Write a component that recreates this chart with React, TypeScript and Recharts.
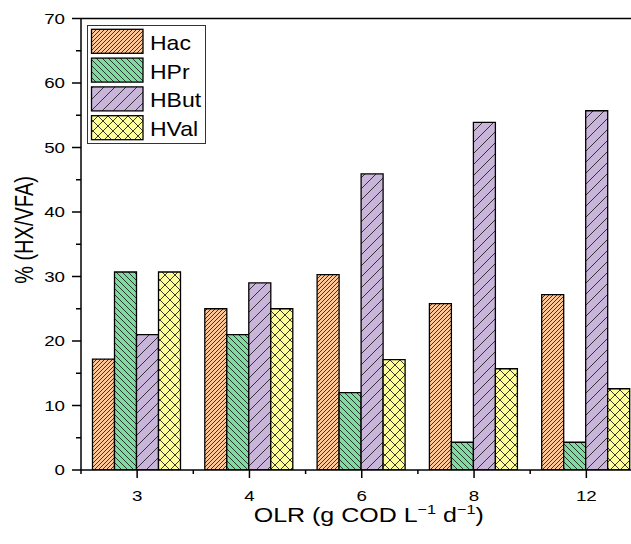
import React from 'react';
import { BarChart, Bar, XAxis, YAxis, Legend, ReferenceLine } from 'recharts';

const categories = ['3', '4', '6', '8', '12'];
const hac = [17.2, 25.0, 30.3, 25.8, 27.2];
const hpr = [30.7, 21.0, 12.0, 4.3, 4.3];
const hbut = [21.0, 29.0, 45.9, 53.9, 55.7];
const hval = [30.7, 25.0, 17.1, 15.7, 12.6];
const yTicks = [0, 5, 10, 15, 20, 25, 30, 35, 40, 45, 50, 55, 60, 65, 70];
const seriesNames = ['Hac', 'HPr', 'HBut', 'HVal'];

const data = categories.map((c, i) => ({
  olr: c,
  Hac: hac[i],
  HPr: hpr[i],
  HBut: hbut[i],
  HVal: hval[i],
}));

const FONT = '"Liberation Sans", Arial, Helvetica, sans-serif';
const SX = 1.25;
const patternIds: Record<string, string> = { Hac: 'pHac', HPr: 'pHPr', HBut: 'pHBut', HVal: 'pHVal' };

const Patterns = () => (
  <svg width={0} height={0} style={{ position: 'absolute' }}>
    <defs>
      <pattern id="pHac" patternUnits="userSpaceOnUse" width={4} height={4}>
        <rect width={4} height={4} fill="#FFC697" />
        <path d="M-1,1 l2,-2 M0,4 l4,-4 M3,5 l2,-2" stroke="#222" strokeWidth={0.9} />
      </pattern>
      <pattern id="pHPr" patternUnits="userSpaceOnUse" width={6} height={6}>
        <rect width={6} height={6} fill="#7FDBA0" />
        <path d="M-1,5 l2,2 M0,0 l6,6 M5,-1 l2,2" stroke="#222" strokeWidth={0.9} />
      </pattern>
      <pattern id="pHBut" patternUnits="userSpaceOnUse" width={11} height={11}>
        <rect width={11} height={11} fill="#C9B5D9" />
        <path d="M-1,1 l2,-2 M0,11 l11,-11 M10,12 l2,-2" stroke="#222" strokeWidth={0.9} />
      </pattern>
      <pattern id="pHVal" patternUnits="userSpaceOnUse" width={10} height={10}>
        <rect width={10} height={10} fill="#FFFF99" />
        <path d="M-1,1 l2,-2 M0,10 l10,-10 M9,11 l2,-2 M-1,9 l2,2 M0,0 l10,10 M9,-1 l2,2" stroke="#222" strokeWidth={0.9} />
      </pattern>
    </defs>
  </svg>
);

const SText = ({ x, y, anchor, size, children, sx = SX }: any) => (
  <g transform={`translate(${x},${y}) scale(${sx},1)`}>
    <text x={0} y={0} textAnchor={anchor} fontSize={size} fontFamily={FONT} fill="#000">
      {children}
    </text>
  </g>
);

const XTick = (props: any) => {
  const { x, y, payload, index, visibleTicksCount } = props;
  const half = payload && typeof payload.offset === 'number' && payload.offset > 0 ? payload.offset : 56;
  const last = index === (visibleTicksCount ?? categories.length) - 1;
  return (
    <g>
      <line x1={x} x2={x} y1={y} y2={y + 8} stroke="#000" strokeWidth={1.5} />
      <line x1={x - half} x2={x - half} y1={y} y2={y + 4} stroke="#000" strokeWidth={1.5} />
      {last && <line x1={x + half} x2={x + half} y1={y} y2={y + 4} stroke="#000" strokeWidth={1.5} />}
      <SText x={x} y={y + 31} anchor="middle" size={15}>
        {payload.value}
      </SText>
    </g>
  );
};

const YTick = (props: any) => {
  const { x, y, payload } = props;
  const major = payload.value % 10 === 0;
  return (
    <g>
      <line x1={x - (major ? 9 : 5)} x2={x} y1={y} y2={y} stroke="#000" strokeWidth={1.5} />
      {major && (
        <SText x={x - 16} y={y + 5.4} anchor="end" size={15}>
          {payload.value}
        </SText>
      )}
    </g>
  );
};

const XTitle = (props: any) => {
  const vb = props.viewBox || { x: 81, y: 470, width: 561, height: 74 };
  const cx = vb.x + vb.width / 2 + 7;
  return (
    <g transform={`translate(${cx},${vb.y + 52}) scale(${SX},1)`}>
      <text x={0} y={0} textAnchor="middle" fontSize={20} fontFamily={FONT} fill="#000">
        <tspan>OLR (g COD L</tspan>
        <tspan fontSize={13} dy={-8}>−1</tspan>
        <tspan dy={8}> d</tspan>
        <tspan fontSize={13} dy={-8}>−1</tspan>
        <tspan dy={8}>)</tspan>
      </text>
    </g>
  );
};

const YTitle = () => {
  const bx = 33;
  const cy = 230;
  return (
    <g transform={`translate(${bx},${cy}) rotate(-90) scale(1,${SX})`}>
      <text x={0} y={0} textAnchor="middle" fontSize={20} fontFamily={FONT} fill="#000">
        % (HX/VFA)
      </text>
    </g>
  );
};

const LegendBox = () => (
  <div style={{ border: '1px solid #333', width: 117, height: 117, background: '#fff' }}>
    <svg width={117} height={117} style={{ display: 'block' }}>
      {seriesNames.map((name, i) => (
        <g key={name}>
          <rect
            x={3.5}
            y={3.3 + i * 28.8}
            width={51.5}
            height={24}
            fill={`url(#${patternIds[name]})`}
            stroke="#000"
            strokeWidth={1.3}
          />
          <SText x={62} y={3.3 + i * 28.8 + 20.5} anchor="start" size={20} sx={1.15}>
            {name}
          </SText>
        </g>
      ))}
    </svg>
  </div>
);

export default function App() {
  return (
    <div
      style={{
        position: 'fixed',
        left: 0,
        top: 0,
        width: 631,
        height: 544,
        overflow: 'hidden',
        background: '#fff',
      }}
    >
      <Patterns />
      <BarChart
        width={660}
        height={544}
        data={data}
        margin={{ top: 18.5, right: 17.5, bottom: 0, left: 0 }}
        barCategoryGap={11.5}
        barGap={0}
      >
        <XAxis
          dataKey="olr"
          type="category"
          height={74}
          tickSize={0}
          tickMargin={0}
          tickLine={false}
          tick={<XTick />}
          interval={0}
          axisLine={{ stroke: '#000', strokeWidth: 1.5 }}
          label={<XTitle />}
        />
        <YAxis
          domain={[0, 70]}
          ticks={yTicks}
          interval={0}
          width={81}
          tickSize={0}
          tickMargin={0}
          tickLine={false}
          tick={<YTick />}
          axisLine={{ stroke: '#000', strokeWidth: 1.5 }}
          label={<YTitle />}
          allowDataOverflow
        />
        <ReferenceLine y={70} stroke="#000" strokeWidth={1.5} />
        <Legend
          layout="vertical"
          align="center"
          verticalAlign="middle"
          content={<LegendBox />}
          wrapperStyle={{ position: 'absolute', left: 87, top: 25, width: 'auto', height: 'auto' }}
        />
        <Bar dataKey="Hac" name="Hac" fill="url(#pHac)" stroke="#000" strokeWidth={1.3} isAnimationActive={false} />
        <Bar dataKey="HPr" name="HPr" fill="url(#pHPr)" stroke="#000" strokeWidth={1.3} isAnimationActive={false} />
        <Bar dataKey="HBut" name="HBut" fill="url(#pHBut)" stroke="#000" strokeWidth={1.3} isAnimationActive={false} />
        <Bar dataKey="HVal" name="HVal" fill="url(#pHVal)" stroke="#000" strokeWidth={1.3} isAnimationActive={false} />
      </BarChart>
    </div>
  );
}
